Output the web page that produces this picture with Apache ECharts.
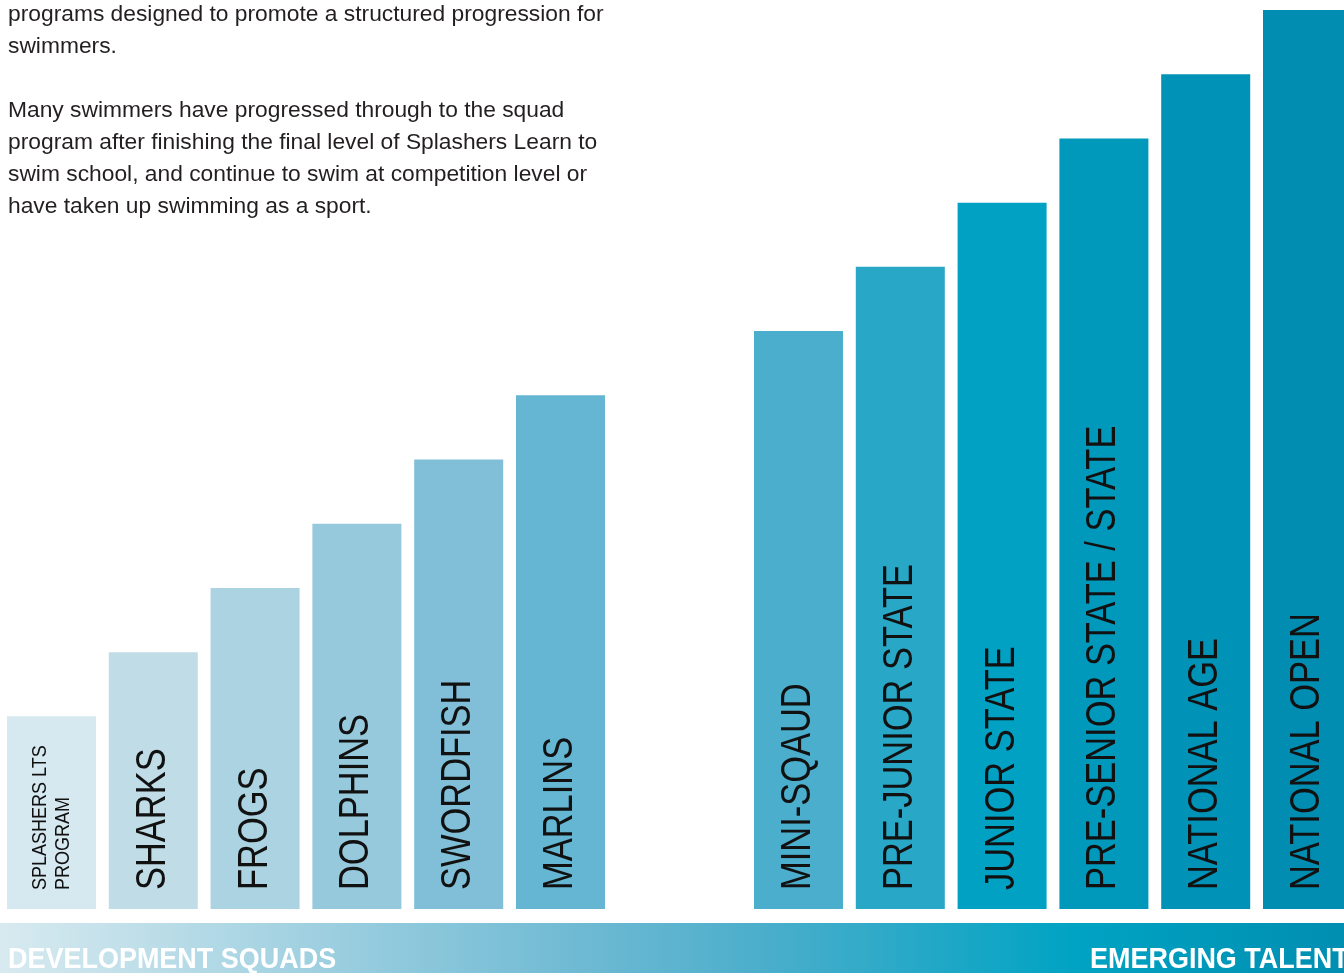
<!DOCTYPE html>
<html>
<head>
<meta charset="utf-8">
<script src="https://cdn.jsdelivr.net/npm/echarts@6/dist/echarts.min.js"></script>
<style>
  html, body { margin: 0; padding: 0; background: #fff; }
  #chart { width: 1344px; height: 973px; }
</style>
</head>
<body>
<div id="chart"></div>
<script>
  // squad levels, left block = development, right block = emerging talent
  const devSquads = ['SPLASHERS LTS\nPROGRAM', 'SHARKS', 'FROGS', 'DOLPHINS', 'SWORDFISH', 'MARLINS'];
  const devLevels = [3, 4, 5, 6, 7, 8];
  const talentSquads = ['MINI-SQAUD', 'PRE-JUNIOR STATE', 'JUNIOR STATE', 'PRE-SENIOR STATE / STATE', 'NATIONAL AGE', 'NATIONAL OPEN'];
  const talentLevels = [9, 10, 11, 12, 13, 14];
  const groupNames = ['DEVELOPMENT SQUADS', 'EMERGING TALENT'];
  const introLines = [
    'programs designed to promote a structured progression for',
    'swimmers.',
    '',
    'Many swimmers have progressed through to the squad',
    'program after finishing the final level of Splashers Learn to',
    'swim school, and continue to swim at competition level or',
    'have taken up swimming as a sport.'
  ];

  const devColors = ['#d7e9f0', '#c0dde7', '#abd3e1', '#97c9dc', '#80bfd7', '#64b6d2'];
  const talentColors = ['#4caecd', '#28a7c6', '#00a1c3', '#0099bc', '#0092b7', '#008db1'];

  const sans = '"Liberation Sans", Arial, sans-serif';

  // each squad sits on its slot index, the value is its level
  function barSeries(idx, levels, colors) {
    return {
      type: 'bar',
      xAxisIndex: idx,
      yAxisIndex: idx,
      barWidth: 89,
      silent: true,
      data: levels.map((v, i) => ({ value: [i, v], itemStyle: { color: colors[i] } }))
    };
  }

  // vertical squad names, squeezed a bit to look like a condensed face
  function nameSeries(idx, names) {
    return {
      type: 'custom',
      xAxisIndex: idx,
      yAxisIndex: idx,
      silent: true,
      z: 5,
      data: names.map((n, i) => [i, 0]),
      encode: { x: 0, y: 1 },
      renderItem: (params, api) => {
        let pt = api.coord([api.value(0), 0]);
        let name = names[params.dataIndex];
        let small = name.indexOf('\n') >= 0;
        return {
          type: 'text',
          x: pt[0],
          y: pt[1] - 19,
          rotation: Math.PI / 2,
          scaleX: small ? 0.9 : 0.82,
          style: {
            text: name,
            font: (small ? '20px ' : '42px ') + sans,
            lineHeight: small ? 23 : 48,
            fill: '#111',
            align: 'left',
            verticalAlign: 'middle'
          }
        };
      }
    };
  }

  const chart = echarts.init(document.getElementById('chart'));
  const option = {
    animation: false,
    backgroundColor: '#fff',
    grid: [
      { left: 0.6, width: 610.8, top: 10, bottom: 64 },
      { left: 747.6, right: 0, top: 10, bottom: 64 }
    ],
    xAxis: [
      // slot width 101.8px in both blocks; the right block runs off the page edge
      { type: 'value', gridIndex: 0, min: -0.5, max: 5.5, show: false },
      { type: 'value', gridIndex: 1, min: -0.5, max: 5.3585, show: false }
    ],
    yAxis: [
      { type: 'value', gridIndex: 0, min: 0, max: 14, show: false },
      { type: 'value', gridIndex: 1, min: 0, max: 14, show: false }
    ],
    series: [
      barSeries(0, devLevels, devColors),
      barSeries(1, talentLevels, talentColors),
      nameSeries(0, devSquads),
      nameSeries(1, talentSquads)
    ],
    graphic: [
      {
        type: 'text',
        left: 8,
        top: -1,
        style: {
          text: introLines.join('\n'),
          font: '22.8px ' + sans,
          lineHeight: 32,
          fill: '#231f20'
        }
      },
      {
        type: 'rect',
        shape: { x: 0, y: 923, width: 1344, height: 50 },
        style: {
          fill: new echarts.graphic.LinearGradient(0, 0, 1, 0, [
            { offset: 0, color: '#d8eaf0' },
            { offset: 0.45, color: '#6ab8d2' },
            { offset: 0.57, color: '#4aaecb' },
            { offset: 0.8, color: '#00a3c3' },
            { offset: 1, color: '#008eb1' }
          ])
        }
      },
      {
        type: 'text',
        x: 8,
        y: 974,
        scaleX: 0.93,
        style: {
          text: groupNames[0],
          font: 'bold 29px ' + sans,
          fill: '#fff',
          textVerticalAlign: 'bottom'
        }
      },
      {
        type: 'text',
        x: 1090,
        y: 974,
        scaleX: 0.93,
        style: {
          text: groupNames[1],
          font: 'bold 29px ' + sans,
          fill: '#fff',
          textVerticalAlign: 'bottom'
        }
      }
    ]
  };
  chart.setOption(option);
</script>
</body>
</html>
